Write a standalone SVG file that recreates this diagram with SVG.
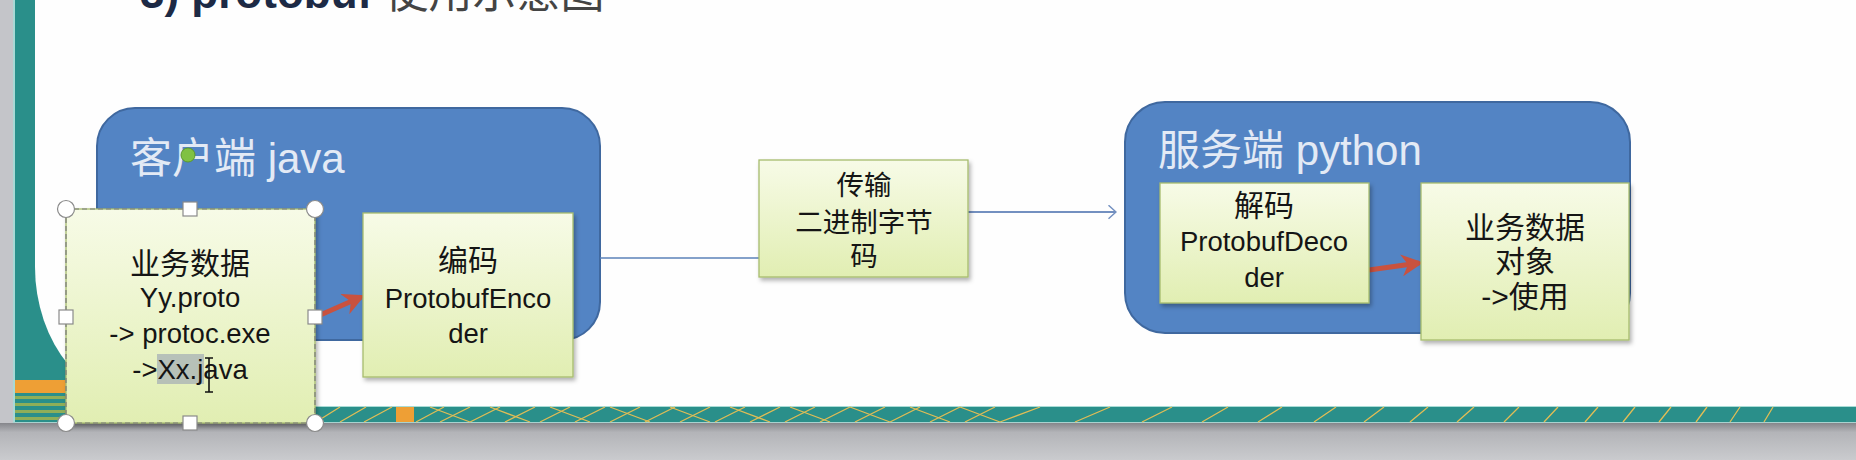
<svg xmlns="http://www.w3.org/2000/svg" width="1856" height="460" viewBox="0 0 1856 460">
<defs>
<style>
.t{font-family:"Liberation Sans","Noto Sans CJK SC",sans-serif;fill:#151515;text-anchor:middle;font-size:27.5px}
.cj{font-size:30px}
.ctitle{font-family:"Liberation Sans","Noto Sans CJK SC",sans-serif;fill:#e3eaf5;font-size:42px}
.box{fill:url(#boxGrad);stroke:#a7bc6e;stroke-width:1.3;filter:url(#shadow)}
.container{fill:#5384c4;stroke:#3f689f;stroke-width:2}
.handle{fill:#ffffff;stroke:#8a8a8a;stroke-width:1.2}
.strip{stroke:#e2bd55;stroke-width:1.3;fill:none}
</style>
<linearGradient id="boxGrad" x1="0" y1="0" x2="0" y2="1">
<stop offset="0" stop-color="#f7fbe7"/>
<stop offset="1" stop-color="#e1eeb2"/>
</linearGradient>
<linearGradient id="grayGrad" x1="0" y1="0" x2="0" y2="1">
<stop offset="0" stop-color="#85868b"/>
<stop offset="0.25" stop-color="#b3b4b8"/>
<stop offset="1" stop-color="#cacbce"/>
</linearGradient>
<filter id="shadow" x="-10%" y="-10%" width="125%" height="130%">
<feDropShadow dx="2" dy="3" stdDeviation="2" flood-color="#000" flood-opacity="0.3"/>
</filter>
<marker id="redHead" viewBox="0 0 10 10" refX="8" refY="5" markerWidth="4.4" markerHeight="4.4" orient="auto" markerUnits="strokeWidth">
<path d="M0,0 L10,5 L0,10 L3,5 Z" fill="#c9523f"/>
</marker>
<marker id="openHead" viewBox="0 0 12 20" refX="11" refY="10" markerWidth="9" markerHeight="15" orient="auto" markerUnits="userSpaceOnUse">
<path d="M1,1 L11,10 L1,19" fill="none" stroke="#7390c0" stroke-width="2"/>
</marker>
</defs>

<g id="background">
<rect x="0" y="0" width="1856" height="460" fill="#c4c5c9"/>
<rect x="0" y="423" width="1856" height="37" fill="url(#grayGrad)"/>
<rect x="13" y="0" width="1843" height="423" fill="#2a8f8a"/>
<rect x="13" y="0" width="2" height="423" fill="#a9d9d5"/>
<path d="M35,0 H1856 V406 H150 A115,139 0 0 1 35,267 Z" fill="#fefefe"/>
<line x1="150" y1="406.5" x2="1856" y2="406.5" stroke="#a9dcd6" stroke-width="1"/>
<line x1="13" y1="422.5" x2="1856" y2="422.5" stroke="#a9d2cf" stroke-width="1"/>
<rect x="15" y="380" width="52" height="13" fill="#ee9f35"/>
<rect x="15" y="396" width="52" height="3" fill="#8fae58"/>
<rect x="15" y="403" width="52" height="3" fill="#8fae58"/>
<rect x="15" y="410" width="52" height="3" fill="#8fae58"/>
<rect x="15" y="417" width="52" height="3" fill="#8fae58"/>
<rect x="396" y="407" width="18" height="15" fill="#ee9f35"/>
<g class="strip">
<path d="M316,422 L340,407 M340,422 L366,407 M364,422 L392,407 M416,422 L444,407 M440,422 L470,407 M470,422 L500,407 M505,422 L535,407 M540,422 L570,407 M575,422 L605,407 M610,422 L640,407 M645,422 L675,407 M680,422 L710,407 M715,422 L745,407 M750,422 L780,407 M785,422 L815,407 M820,422 L850,407 M855,422 L885,407 M890,422 L920,407 M930,422 L960,407 M965,422 L995,407"/>
<path d="M430,407 L470,422 M490,407 L530,422 M550,407 L590,422 M610,407 L650,422 M670,407 L710,422 M730,407 L770,422 M790,407 L830,422 M850,407 L890,422 M910,407 L950,422 M960,407 L1000,422"/>
<path d="M1000,422 L1040,407 M1075,422 L1110,407 M1142,422 L1172,407 M1202,422 L1228,407 M1258,422 L1282,407 M1314,422 L1336,407 M1364,422 L1384,407 M1410,422 L1428,407 M1457,422 L1474,407 M1504,422 L1519,407 M1544,422 L1558,407 M1585,422 L1598,407 M1623,422 L1635,407 M1659,422 L1671,407 M1696,422 L1707,407 M1730,422 L1740,407 M1764,422 L1773,407"/>
</g>
</g>

<text id="title" x="140" y="8" font-family="Liberation Sans,Noto Sans CJK SC,sans-serif" font-size="44"><tspan font-weight="bold" fill="#1d2a45">3) protobuf</tspan><tspan fill="#444"> 使用示意图</tspan></text>

<g id="client-container">
<rect class="container" x="97" y="108" width="503" height="232" rx="38"/>
<text class="ctitle" x="130" y="173">客户端 java</text>
</g>

<g id="server-container">
<rect class="container" x="1125" y="102" width="505" height="231" rx="40"/>
<text class="ctitle" x="1158" y="165">服务端 python</text>
</g>

<g id="connectors">
<line x1="318" y1="316" x2="361" y2="297" stroke="#c9523f" stroke-width="5" marker-end="url(#redHead)"/>
<line x1="600" y1="258" x2="759" y2="258" stroke="#5b82b8" stroke-width="1.5"/>
<line x1="968" y1="212" x2="1116" y2="212" stroke="#7390c0" stroke-width="2" marker-end="url(#openHead)"/>
<line x1="1369" y1="270" x2="1419" y2="263" stroke="#c9523f" stroke-width="5" marker-end="url(#redHead)"/>
</g>

<g id="node-encoder">
<rect class="box" x="363" y="213" width="210" height="164"/>
<text class="t cj" x="468" y="271">编码</text>
<text class="t" x="468" y="308">ProtobufEnco</text>
<text class="t" x="468" y="343">der</text>
</g>

<g id="node-transfer">
<rect class="box" x="759" y="160" width="209" height="117"/>
<text class="t" x="864" y="195" font-size="31">传输</text>
<text class="t" x="864" y="232" font-size="31">二进制字节</text>
<text class="t" x="864" y="266" font-size="31">码</text>
</g>

<g id="node-decoder">
<rect class="box" x="1160" y="183" width="209" height="120"/>
<text class="t cj" x="1264" y="216">解码</text>
<text class="t" x="1264" y="251">ProtobufDeco</text>
<text class="t" x="1264" y="287">der</text>
</g>

<g id="node-object">
<rect class="box" x="1421" y="183" width="208" height="157"/>
<text class="t cj" x="1525" y="238">业务数据</text>
<text class="t cj" x="1525" y="272">对象</text>
<text class="t cj" x="1525" y="307">-&gt;使用</text>
</g>

<g id="node-business-data">
<rect class="box" x="66" y="209" width="249" height="214"/>
<rect x="66" y="209" width="249" height="214" fill="none" stroke="#7a7a7a" stroke-width="1.2" stroke-dasharray="5 3"/>
<rect x="157" y="354" width="47" height="30" fill="#a7b0b6" opacity="0.75"/>
<text class="t cj" x="190" y="274">业务数据</text>
<text class="t" x="190" y="307">Yy.proto</text>
<text class="t" x="190" y="343">-&gt; protoc.exe</text>
<text class="t" x="190" y="379">-&gt;Xx.java</text>
<path d="M205,358 H213 M209,358 V392 M205,392 H213" stroke="#111" stroke-width="1.6" fill="none"/>
</g>

<g id="selection-handles">
<circle cx="188" cy="155" r="7" fill="#80c142" stroke="#5c9a2c" stroke-width="1"/>
<circle class="handle" cx="66" cy="209" r="8.5"/>
<circle class="handle" cx="315" cy="209" r="8.5"/>
<circle class="handle" cx="66" cy="423" r="8.5"/>
<circle class="handle" cx="315" cy="423" r="8.5"/>
<rect class="handle" x="183" y="202" width="14" height="14"/>
<rect class="handle" x="183" y="416" width="14" height="14"/>
<rect class="handle" x="59" y="310" width="14" height="14"/>
<rect class="handle" x="308" y="310" width="14" height="14"/>
</g>
</svg>
